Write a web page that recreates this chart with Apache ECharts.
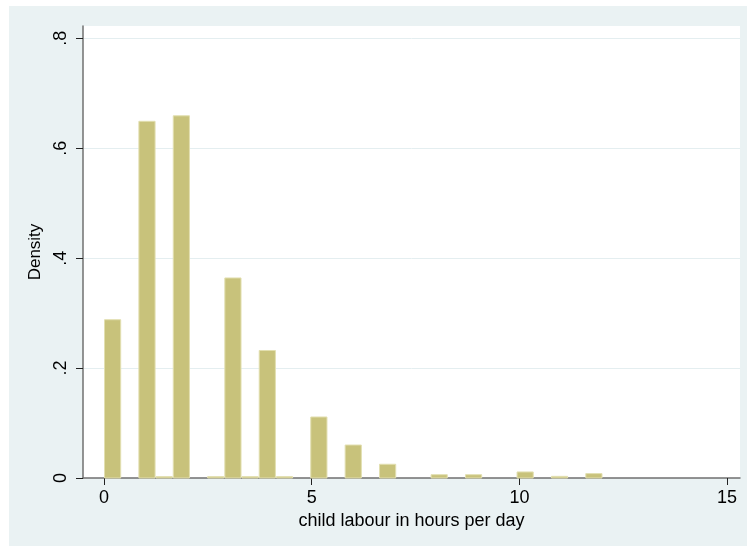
<!DOCTYPE html>
<html>
<head>
<meta charset="utf-8">
<title>child labour histogram</title>
<script src="https://cdn.jsdelivr.net/npm/echarts@6/dist/echarts.min.js"></script>
<style>
  html, body { margin: 0; padding: 0; background: #fff; }
  #frame { position: absolute; left: 9px; top: 6px; width: 738px; height: 540px; background: #eaf2f3; }
  #chart { position: absolute; left: 0; top: 0; width: 747px; height: 546px; }
</style>
</head>
<body>
<div id="frame"></div>
<div id="chart"></div>
<script>
// histogram: 29 bins of equal width from 0 to 12
var binStart = 0;
var binWidth = 12 / 29;
var density = [
    0.288, 0, 0.649, 0.0025, 0.659, 0, 0.0025, 0.364, 0.0025, 0.232,
    0.0025, 0, 0.111, 0, 0.060, 0, 0.025, 0, 0, 0.006,
    0, 0.006, 0, 0, 0.011, 0, 0.003, 0, 0.008
];
var xTicks = [0, 5, 10, 15];
var yTicks = [0, 0.2, 0.4, 0.6, 0.8];

var bins = density.map(function (d, i) {
    return [binStart + i * binWidth, binStart + (i + 1) * binWidth, d];
});

var font = 'Liberation Sans, Arial, sans-serif';
var chart = echarts.init(document.getElementById('chart'));

var option = {
    backgroundColor: 'transparent',
    animation: false,
    grid: {
        left: 83, right: 7, top: 26, bottom: 68,
        show: true, backgroundColor: '#fff', borderWidth: 0
    },
    xAxis: {
        type: 'value',
        min: -0.5056, max: 15.31,
        name: 'child labour in hours per day',
        nameLocation: 'middle',
        nameGap: 33,
        nameTextStyle: { color: '#000', fontSize: 18, fontFamily: font },
        axisLine: { onZero: false, lineStyle: { color: '#707070', width: 1.5 } },
        axisTick: { show: true, length: 7, customValues: xTicks, lineStyle: { color: '#222' } },
        axisLabel: {
            customValues: xTicks, margin: 11,
            color: '#000', fontSize: 18, fontFamily: font
        },
        splitLine: { show: false }
    },
    yAxis: {
        type: 'value',
        min: 0, max: 0.8224, interval: 0.2,
        name: 'Density',
        nameLocation: 'middle',
        nameGap: 31,
        nameTextStyle: { color: '#000', fontSize: 17, fontFamily: font },
        axisLine: { show: true, onZero: false, lineStyle: { color: '#707070', width: 1.5 } },
        axisTick: { show: true, length: 7, customValues: yTicks, lineStyle: { color: '#222' } },
        axisLabel: {
            customValues: yTicks, rotate: 90, margin: 13,
            color: '#000', fontSize: 18, fontFamily: font,
            formatter: function (v) {
                return v === 0 ? '0' : String(Math.round(v * 10) / 10).replace(/^0/, '');
            }
        },
        splitLine: { show: true, lineStyle: { color: '#e4eef0', width: 1 } }
    },
    series: [{
        type: 'custom',
        data: bins,
        renderItem: function (params, api) {
            if (api.value(2) <= 0) return;
            var p0 = api.coord([api.value(0), api.value(2)]);
            var p1 = api.coord([api.value(1), 0]);
            return {
                type: 'rect',
                shape: { x: p0[0] + 0.5, y: p0[1], width: p1[0] - p0[0] - 1, height: p1[1] - p0[1] },
                style: { fill: '#c8c27b', stroke: '#e2dfb0', lineWidth: 1 }
            };
        },
        encode: { x: [0, 1], y: 2 }
    }]
};

chart.setOption(option);
</script>
</body>
</html>
